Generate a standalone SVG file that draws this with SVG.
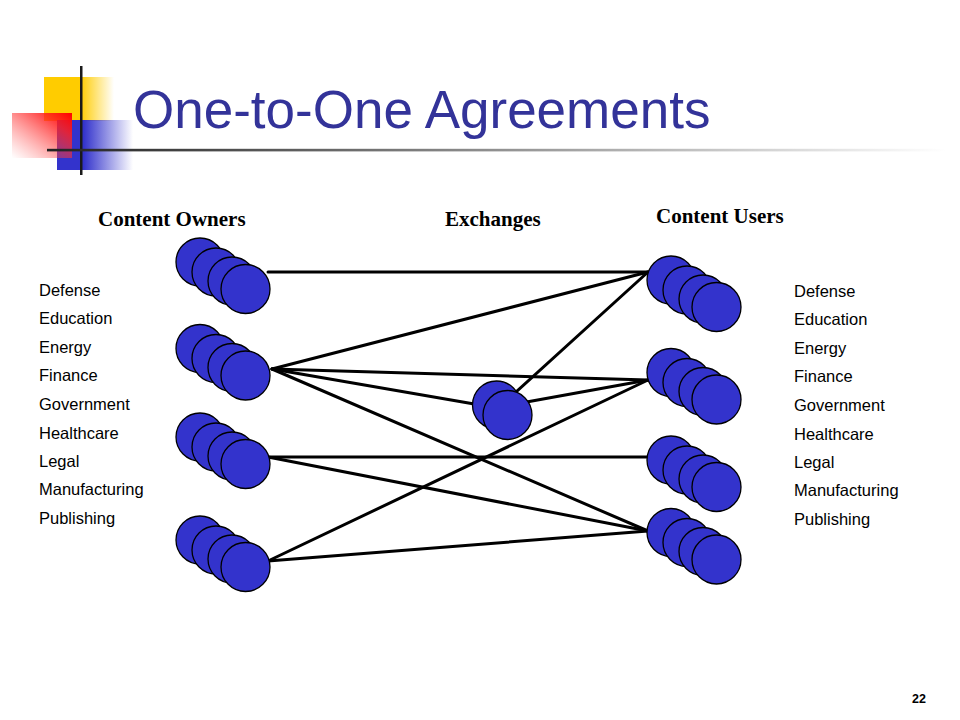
<svg xmlns="http://www.w3.org/2000/svg" width="960" height="720" viewBox="0 0 960 720">
<defs>
<linearGradient id="gy" x1="0" y1="0" x2="1" y2="0"><stop offset="0" stop-color="#FFCC00"/><stop offset="0.52" stop-color="#FFCC00"/><stop offset="1" stop-color="#FFCC00" stop-opacity="0"/></linearGradient>
<linearGradient id="gb" x1="0" y1="0" x2="1" y2="0"><stop offset="0" stop-color="#3333CC"/><stop offset="0.35" stop-color="#3333CC"/><stop offset="1" stop-color="#3333CC" stop-opacity="0"/></linearGradient>
<linearGradient id="gr" x1="1" y1="0" x2="0" y2="1"><stop offset="0" stop-color="#FF0000"/><stop offset="0.25" stop-color="#FF2020" stop-opacity="0.85"/><stop offset="1" stop-color="#FF6060" stop-opacity="0"/></linearGradient>
<linearGradient id="gl" gradientUnits="userSpaceOnUse" x1="47" y1="0" x2="945" y2="0"><stop offset="0" stop-color="#222222"/><stop offset="0.08" stop-color="#333333"/><stop offset="1" stop-color="#FFFFFF"/></linearGradient>
<g id="stack4" fill="#3333CC" stroke="#000" stroke-width="1.3">
<circle cx="0" cy="0" r="24"/>
<circle cx="16" cy="10" r="24"/>
<circle cx="32" cy="19" r="24"/>
<circle cx="45.5" cy="27" r="24.5"/>
</g>
</defs>
<style>
.title{font-family:"Liberation Sans",Arial,sans-serif;font-size:53px;fill:#333399}
.head{font-family:"Liberation Serif","Times New Roman",serif;font-weight:bold;font-size:21px;fill:#000}
.item{font-family:"Liberation Sans",Arial,sans-serif;font-size:16.5px;fill:#000}
.node circle{fill:#3333CC;stroke:#000;stroke-width:1.3}
.conn line{stroke:#000;stroke-width:3;stroke-linecap:round}
.pg{font-family:"Liberation Sans",Arial,sans-serif;font-weight:bold;font-size:12.5px;fill:#000}
</style>
<rect width="960" height="720" fill="#fff"/>
<g id="logo">
<rect x="44" y="77" width="70" height="44" fill="url(#gy)"/>
<rect x="57" y="120" width="76" height="50" fill="url(#gb)"/>
<rect x="12" y="113" width="60" height="45" fill="url(#gr)"/>
<rect x="80" y="66" width="2.5" height="109" fill="#1a1a1a"/>
<rect x="47" y="148.8" width="898" height="2.6" fill="url(#gl)"/>
</g>
<text class="title" x="133" y="128">One-to-One Agreements</text>
<text class="head" x="98" y="226">Content Owners</text>
<text class="head" x="445" y="226">Exchanges</text>
<text class="head" x="656" y="223">Content Users</text>
<g id="owner-sectors" class="item">
<text x="39" y="295.5">Defense</text>
<text x="39" y="324">Education</text>
<text x="39" y="352.5">Energy</text>
<text x="39" y="381">Finance</text>
<text x="39" y="409.5">Government</text>
<text x="39" y="438.5">Healthcare</text>
<text x="39" y="466.5">Legal</text>
<text x="39" y="495">Manufacturing</text>
<text x="39" y="524">Publishing</text>
</g>
<g id="user-sectors" class="item">
<text x="794" y="296.5">Defense</text>
<text x="794" y="325">Education</text>
<text x="794" y="353.5">Energy</text>
<text x="794" y="382">Finance</text>
<text x="794" y="410.5">Government</text>
<text x="794" y="439.5">Healthcare</text>
<text x="794" y="467.5">Legal</text>
<text x="794" y="496">Manufacturing</text>
<text x="794" y="525">Publishing</text>
</g>
<g id="connectors" class="conn">
<line x1="268" y1="272" x2="648" y2="272"/>
<line x1="272" y1="369" x2="648" y2="272"/>
<line x1="272" y1="369" x2="648" y2="380"/>
<line x1="272" y1="369" x2="480" y2="405"/>
<line x1="272" y1="369" x2="648" y2="531"/>
<line x1="268" y1="457" x2="648" y2="457"/>
<line x1="268" y1="457" x2="648" y2="531"/>
<line x1="268" y1="561" x2="648" y2="380"/>
<line x1="268" y1="561" x2="648" y2="531"/>
<line x1="505" y1="402" x2="648" y2="272"/>
<line x1="510" y1="405" x2="648" y2="380"/>
</g>
<g id="owners1" class="node"><use href="#stack4" x="200" y="262"/></g>
<g id="owners2" class="node"><use href="#stack4" x="200" y="348.5"/></g>
<g id="owners3" class="node"><use href="#stack4" x="200" y="437"/></g>
<g id="owners4" class="node"><use href="#stack4" x="200" y="540"/></g>
<g id="exchange" class="node">
<circle cx="496.5" cy="405" r="24"/>
<circle cx="507.5" cy="415" r="24.5"/>
</g>
<g id="users1" class="node"><use href="#stack4" x="671" y="280"/></g>
<g id="users2" class="node"><use href="#stack4" x="671" y="372.5"/></g>
<g id="users3" class="node"><use href="#stack4" x="671" y="460"/></g>
<g id="users4" class="node"><use href="#stack4" x="671" y="532.5"/></g>
<text class="pg" x="912" y="703">22</text>
</svg>
